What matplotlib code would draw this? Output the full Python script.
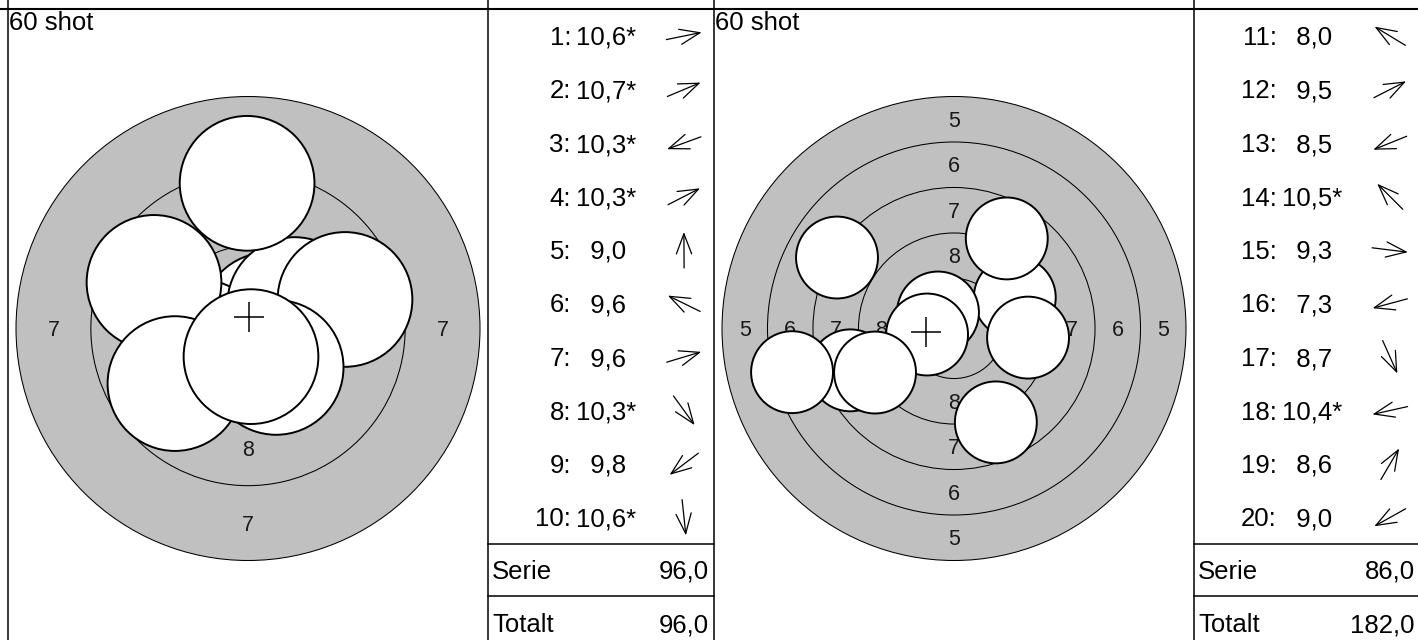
import numpy as np
import matplotlib
matplotlib.use("Agg")
import matplotlib.pyplot as plt
from matplotlib.patches import Circle
from matplotlib import transforms

plt.rcParams['font.family'] = ['Liberation Sans', 'DejaVu Sans']

# ---------------- data ----------------
title_text = "60 shot"

s1_numbers = [1, 2, 3, 4, 5, 6, 7, 8, 9, 10]
s1_scores = [10.6, 10.7, 10.3, 10.3, 9.0, 9.6, 9.6, 10.3, 9.8, 10.6]
s1_inner = [True, True, True, True, False, False, False, True, False, True]
s1_x_mm = [0.98, 0.69, -1.64, 1.56, -0.03, -3.14, 3.24, 0.94, -2.44, 0.10]
s1_y_mm = [0.20, 0.29, -0.60, 0.80, 4.85, 1.54, 0.97, -1.30, -1.84, -0.94]
s1_outer_ring = 7
s1_ring_labels = [7, 8]

s2_numbers = [11, 12, 13, 14, 15, 16, 17, 18, 19, 20]
s2_scores = [8.0, 9.5, 8.5, 10.5, 9.3, 7.3, 8.7, 10.4, 8.6, 9.0]
s2_inner = [False, False, False, True, False, False, False, True, False, False]
s2_x_mm = [-6.43, 3.34, -5.70, -0.88, 4.07, -8.90, 2.30, -1.48, 2.90, -4.34]
s2_y_mm = [3.90, 1.70, -2.30, 0.88, -0.50, -2.40, -5.16, -0.33, 4.95, -2.42]
s2_outer_ring = 5
s2_ring_labels = [5, 6, 7, 8]

ring_radius_mm = {10: 0.25, 9: 2.75, 8: 5.25, 7: 7.75, 6: 10.25, 5: 12.75}
pellet_radius_mm = 2.25

row_labels = ["Serie", "Totalt"]

# ---------------- figure ----------------
W, H = 1418, 640
fig = plt.figure(figsize=(W / 100, H / 100), dpi=100)
GRAY = '#c0c0c0'
FS = 18.5
LABEL_FS = 15.5


def px_box(left, top, width, height):
    return [left / W, 1 - (top + height) / H, width / W, height / H]


def fmt(v):
    return f"{v:.1f}".replace('.', ',')


panels = [
    dict(left=8, nums=s1_numbers, scores=s1_scores, inner=s1_inner,
         xs=s1_x_mm, ys=s1_y_mm, outer=s1_outer_ring, labels=s1_ring_labels),
    dict(left=714, nums=s2_numbers, scores=s2_scores, inner=s2_inner,
         xs=s2_x_mm, ys=s2_y_mm, outer=s2_outer_ring, labels=s2_ring_labels),
]

# target axes
for p in panels:
    ax = fig.add_axes(px_box(p['left'], 9, 480, 639))
    R = ring_radius_mm[p['outer']]
    s = 232.0 / R
    ax.set_xlim(-240 / s, 240 / s)
    ax.set_ylim(-319.5 / s, 319.5 / s)
    ax.axis('off')
    ax.add_patch(Circle((0, 0), R, facecolor=GRAY, edgecolor='black', lw=0.75, zorder=1))
    for ring, r in ring_radius_mm.items():
        if r < R:
            ax.add_patch(Circle((0, 0), r, fill=False, edgecolor='black', lw=0.75, zorder=2))
    cap = 0.716 * LABEL_FS
    tr = transforms.offset_copy(ax.transData, fig=fig, y=-cap / 2, units='points')
    for ring in p['labels']:
        rl = (ring_radius_mm[ring] + ring_radius_mm[ring + 1]) / 2
        for (lx, ly) in [(-rl, 0), (rl, 0), (0, rl), (0, -rl)]:
            ax.text(lx, ly, str(ring), ha='center', va='baseline', fontsize=LABEL_FS,
                    color='#1a1a1a', transform=tr, zorder=3)
    for i, (x, y) in enumerate(zip(p['xs'], p['ys'])):
        ax.add_patch(Circle((x, y), pellet_radius_mm, facecolor='white',
                            edgecolor='black', lw=1.4, zorder=10 + i))
    ax.plot([np.mean(p['xs'])], [np.mean(p['ys'])], marker='+', ms=22, mew=1.1,
            color='black', zorder=60)

# overlay axes in pixel coordinates
ov = fig.add_axes([0, 0, 1, 1])
ov.set_xlim(0, W)
ov.set_ylim(H, 0)
ov.axis('off')

ov.plot([0, W], [9, 9], color='black', lw=1.5)
for xv in [8, 488, 714, 1194]:
    ov.plot([xv, xv], [0, H], color='black', lw=1.1)

total = 0
for p in panels:
    L0 = p['left']
    L = L0 + 480
    ov.text(L0 + 1, 30, title_text, ha='left', va='baseline', fontsize=FS)
    for k, (n, v, star, x, y) in enumerate(zip(p['nums'], p['scores'], p['inner'], p['xs'], p['ys'])):
        base = 45 + k * 53.5
        ov.text(L + 83, base, f"{n}:", ha='right', va='baseline', fontsize=FS)
        val = fmt(v) + ('*' if star else '')
        if v < 10:
            val = '  ' + val
        ov.text(L + 88, base, val, ha='left', va='baseline', fontsize=FS)
        th = np.arctan2(y, x)
        cx, cy = L + 196, base - 9
        dx, dy = 18 * np.cos(th), -18 * np.sin(th)
        ov.annotate('', xy=(cx + dx, cy + dy), xytext=(cx - dx, cy - dy),
                    arrowprops=dict(arrowstyle='->,head_length=1.45,head_width=0.55',
                                    lw=0.9, color='black', shrinkA=0, shrinkB=0,
                                    mutation_scale=10))
    serie = sum(int(v) for v in p['scores'])
    total += serie
    for yl in [544, 596]:
        ov.plot([L, L + 226], [yl, yl], color='black', lw=1.1)
    ov.text(L + 4, 579, row_labels[0], ha='left', va='baseline', fontsize=FS)
    ov.text(L + 221, 579, fmt(serie), ha='right', va='baseline', fontsize=FS)
    ov.text(L + 4, 632, row_labels[1], ha='left', va='baseline', fontsize=FS)
    ov.text(L + 221, 632, fmt(total), ha='right', va='baseline', fontsize=FS)

fig.savefig('out.png', dpi=100)
